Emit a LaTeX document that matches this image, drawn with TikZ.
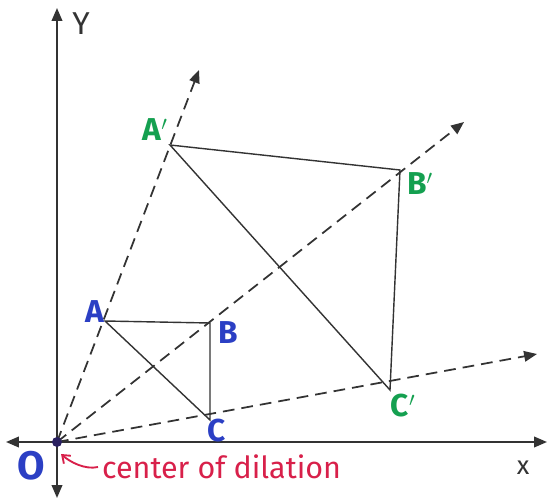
\documentclass[tikz,border=0pt]{standalone}
\usepackage{fontspec}
\setmainfont{Fira Sans}
\usetikzlibrary{arrows.meta}
\definecolor{ink}{HTML}{333333}
\definecolor{bluelab}{HTML}{2B3FC4}
\definecolor{greenlab}{HTML}{14A050}
\definecolor{redlab}{HTML}{D8204A}
\definecolor{dotblue}{HTML}{2A2060}
\tikzset{
  axis/.style={draw=ink, line width=1.6pt, -{Triangle[length=11pt,width=9pt]}},
  ray/.style={draw=ink, line width=1.5pt, dash pattern=on 10pt off 6pt, -{Triangle[length=11pt,width=9pt]}},
  side/.style={draw=ink, line width=1.2pt},
  blab/.style={text=bluelab, font=\fontsize{27}{29}\selectfont\bfseries},
  glab/.style={text=greenlab, font=\fontsize{27}{29}\selectfont\bfseries},
}
\begin{document}
\begin{tikzpicture}[x=0.03cm,y=-0.03cm]
\useasboundingbox (0,0) rectangle (553,500);
% points
\coordinate (O) at (57,442);
\coordinate (A) at (105,321);
\coordinate (B) at (210,323);
\coordinate (C) at (210,420);
\coordinate (A2) at (170,145);
\coordinate (B2) at (400,170);
\coordinate (C2) at (390,390);
\coordinate (YT) at (57,8);
\coordinate (YB) at (57,498);
\coordinate (XL) at (6,442);
\coordinate (XR) at (547,442);
\coordinate (RA) at (199,70);
\coordinate (RB) at (464,122);
\coordinate (RC) at (537,354);
% axes
\draw[axis] (O) -- (YT);
\draw[axis] (O) -- (YB);
\draw[axis] (O) -- (XL);
\draw[axis] (O) -- (XR);
% rays
\draw[ray] (O) -- (RA);
\draw[ray] (O) -- (RB);
\draw[ray] (O) -- (RC);
% triangles
\draw[side] (A) -- (B) -- (C) -- cycle;
\draw[side] (A2) -- (B2) -- (C2) -- cycle;
% origin dot
\fill[dotblue] (O) circle (5);
% labels
\node[blab] (lA) at (95,312) {A};
\node[blab] (lB) at (228,333) {B};
\node[blab] (lC) at (217,431) {C};
\node[glab] (lA2) at (155,130) {A$'$};
\node[glab] (lB2) at (420,184) {B$'$};
\node[glab] (lC2) at (403,406) {C$'$};
\node[text=bluelab, font=\fontsize{34}{36}\selectfont\bfseries] (lO) at (31,466) {O};
\node[text=ink, font=\fontsize{27}{29}\selectfont] (lY) at (81,24) {Y};
\node[text=ink, font=\fontsize{22}{24}\selectfont] (lX) at (523,468) {x};
\node[text=redlab, font=\fontsize{26}{28}\selectfont, anchor=west] (lc) at (98,467) {center of dilation};
\coordinate (ctip) at (61,454);
\draw[redlab, line width=1.6pt, -{Straight Barb[length=6pt,width=9pt]}] (lc.west) .. controls (85,470) and (70,462) .. (ctip);
\end{tikzpicture}
\end{document}
